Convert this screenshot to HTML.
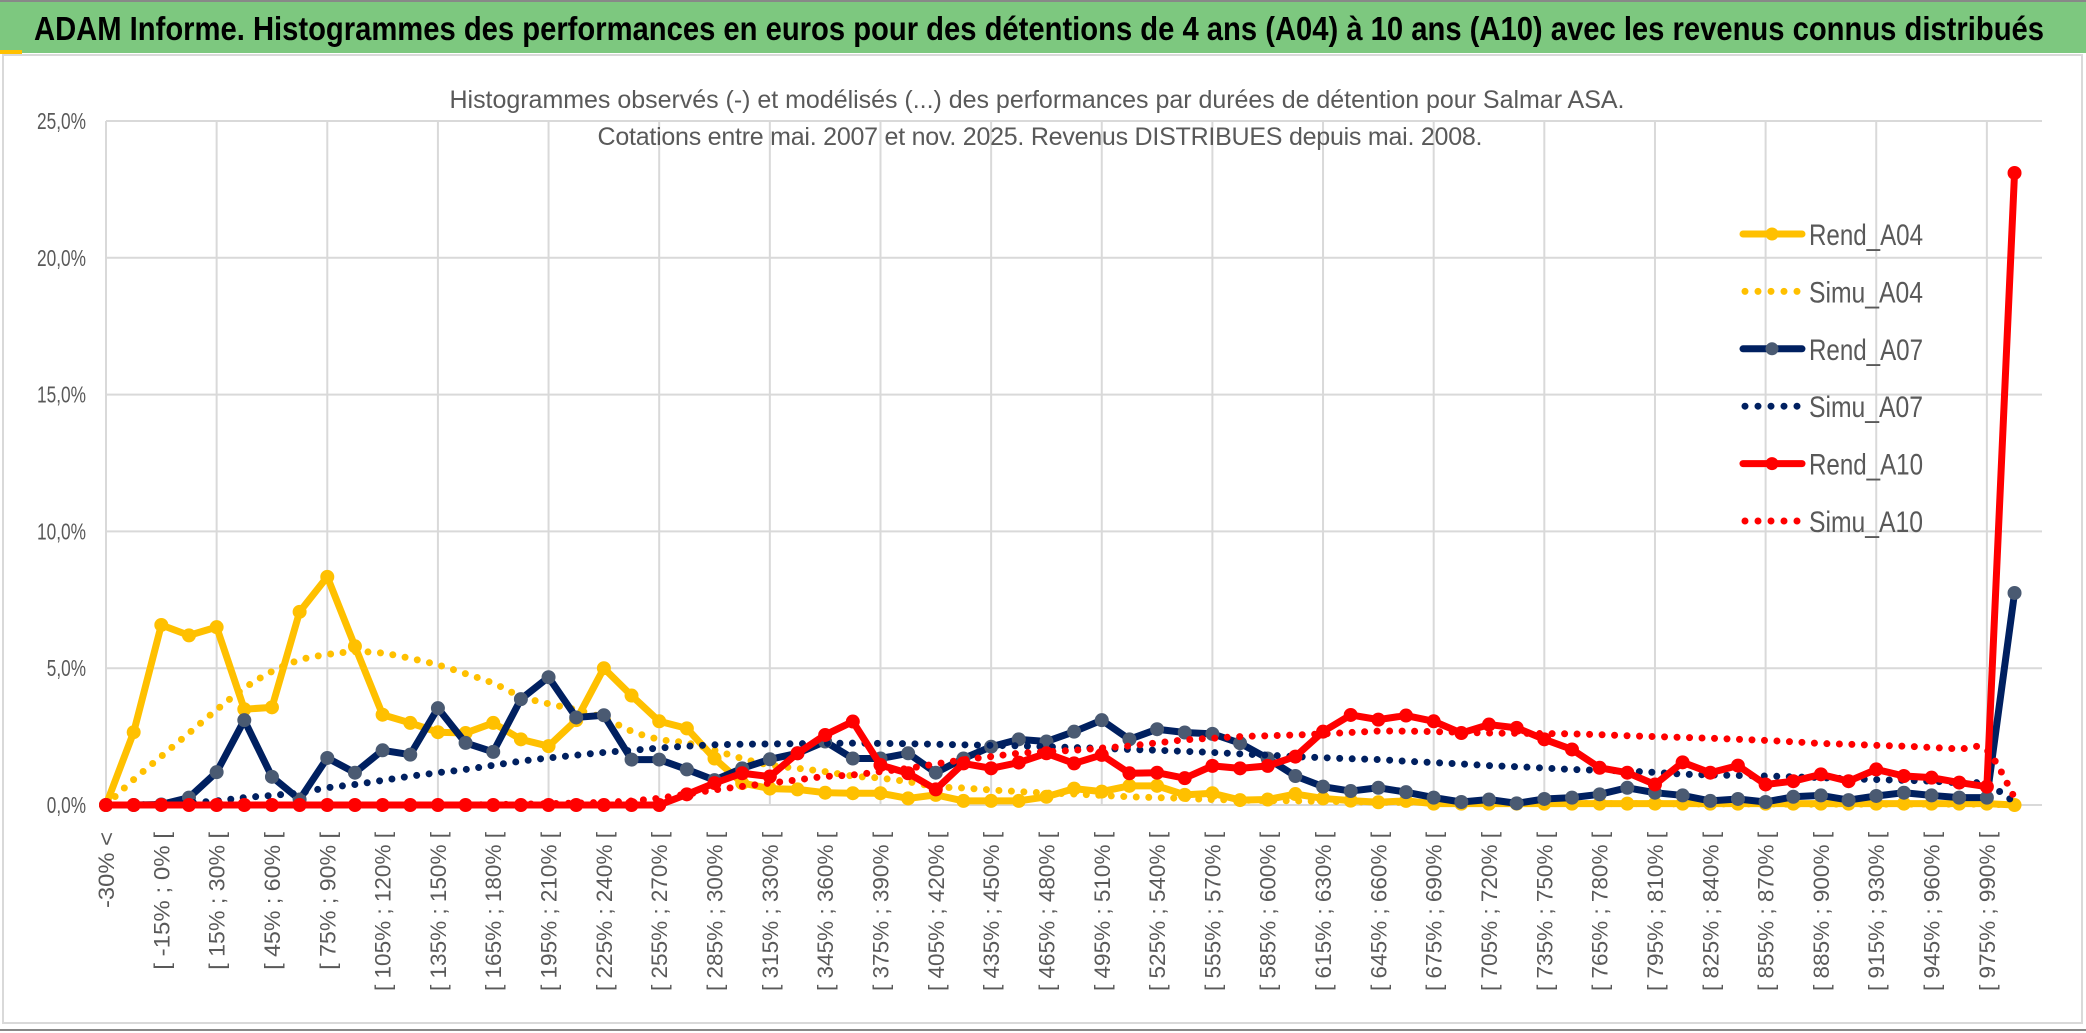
<!DOCTYPE html>
<html><head><meta charset="utf-8"><style>
html,body{margin:0;padding:0;background:#fff;}
svg{display:block;font-family:"Liberation Sans",sans-serif;}
</style></head><body>
<svg id="chart" width="2086" height="1033" viewBox="0 0 2086 1033" xmlns="http://www.w3.org/2000/svg">
<rect x="0" y="0" width="2086" height="1033" fill="#fff"/>
<rect x="0" y="2" width="2086" height="51" fill="#7dc87f"/>
<line x1="0" y1="1" x2="2086" y2="1" stroke="#888" stroke-width="2"/>
<rect x="0" y="50" width="22" height="4" fill="#ffc000"/>
<text x="34" y="40" font-size="33" font-weight="bold" fill="#000" font-family="Liberation Sans Narrow, Liberation Sans, sans-serif" textLength="2010" lengthAdjust="spacingAndGlyphs">ADAM Informe. Histogrammes des performances en euros pour des détentions de 4 ans (A04) à 10 ans (A10) avec les revenus connus distribués</text>
<rect x="3" y="55" width="2079" height="968" fill="none" stroke="#d9d9d9" stroke-width="2"/>
<line x1="0" y1="1030" x2="2086" y2="1030" stroke="#888" stroke-width="2"/>
<g id="grid"></g><g id="yaxis"></g><g id="xaxis"></g><g id="series"></g><g id="legend"></g>
<text x="1037" y="108" font-size="25" fill="#595959" text-anchor="middle" textLength="1175" lengthAdjust="spacing">Histogrammes observés (-) et modélisés (...) des performances par durées de détention pour Salmar ASA.</text>
<text x="1040" y="145" font-size="25" fill="#595959" text-anchor="middle" textLength="885" lengthAdjust="spacing">Cotations entre mai. 2007 et nov. 2025. Revenus DISTRIBUES depuis mai. 2008.</text>
</svg>
<script>
const yTicks = [0,5,10,15,20,25];
const yTickLabels = ["0,0%","5,0%","10,0%","15,0%","20,0%","25,0%"];
const categories = ["-30% <"];
for (let k = 1; k < 70; k++) { const a = -30 + 15*(k-1); categories.push("[ " + a + "% ; " + (a+15) + "% ["); }
const rendA04 = [0,2.66,6.58,6.2,6.5,3.5,3.57,7.06,8.34,5.8,3.3,3.0,2.66,2.63,3.0,2.4,2.15,3.1,5.0,4.0,3.06,2.8,1.7,0.8,0.6,0.57,0.45,0.43,0.43,0.24,0.37,0.15,0.15,0.15,0.3,0.6,0.49,0.7,0.7,0.37,0.43,0.18,0.2,0.4,0.24,0.16,0.1,0.15,0.05,0.05,0.05,0.05,0.05,0.05,0.05,0.05,0.05,0.05,0.05,0.05,0.05,0.05,0.05,0.05,0.05,0.05,0.05,0.05,0.05,0];
const simuA04 = [0,0.93,1.78,2.63,3.48,4.27,4.88,5.3,5.5,5.6,5.55,5.36,5.12,4.8,4.45,3.97,3.7,3.48,3.18,2.7,2.4,2.27,2.0,1.7,1.46,1.34,1.22,1.06,0.98,0.85,0.67,0.62,0.55,0.49,0.44,0.4,0.35,0.3,0.27,0.24,0.2,0.18,0.16,0.15,0.13,0.12,0.1,0.1,0.09,0.08,0.07,0.07,0.06,0.06,0.05,0.05,0.05,0.04,0.04,0.04,0.04,0.03,0.03,0.03,0.03,0.03,0.03,0.03,0.03,0];
const rendA07 = [0,0,0.02,0.27,1.2,3.1,1.03,0.2,1.72,1.18,2.0,1.84,3.54,2.27,1.94,3.87,4.67,3.2,3.28,1.66,1.66,1.3,0.91,1.34,1.67,1.89,2.32,1.7,1.7,1.89,1.18,1.7,2.13,2.4,2.32,2.68,3.1,2.4,2.77,2.65,2.6,2.26,1.7,1.06,0.67,0.51,0.63,0.47,0.27,0.11,0.2,0.06,0.22,0.27,0.39,0.63,0.45,0.35,0.15,0.22,0.11,0.3,0.35,0.18,0.33,0.45,0.35,0.27,0.27,7.75];
const simuA07 = [0,0,0.03,0.08,0.15,0.27,0.35,0.45,0.63,0.75,0.9,1.05,1.18,1.3,1.45,1.6,1.72,1.82,1.92,2.0,2.08,2.15,2.2,2.22,2.23,2.24,2.25,2.26,2.25,2.24,2.22,2.2,2.18,2.16,2.13,2.1,2.07,2.03,2.0,1.96,1.92,1.87,1.82,1.77,1.73,1.69,1.66,1.6,1.55,1.5,1.44,1.4,1.35,1.3,1.27,1.24,1.19,1.13,1.1,1.08,1.06,1.03,1.0,0.96,0.93,0.9,0.87,0.81,0.75,0.1];
const rendA10 = [0,0,0,0,0,0,0,0,0,0,0,0,0,0,0,0,0,0,0,0,0,0.39,0.8,1.16,1.04,1.89,2.56,3.05,1.46,1.16,0.57,1.52,1.34,1.55,1.89,1.52,1.83,1.16,1.18,0.98,1.43,1.34,1.43,1.77,2.68,3.29,3.12,3.27,3.06,2.63,2.94,2.82,2.4,2.03,1.36,1.18,0.75,1.56,1.18,1.44,0.75,0.87,1.12,0.87,1.3,1.06,1.0,0.82,0.67,23.1];
const simuA10 = [0,0,0,0,0,0,0,0,0,0,0,0,0,0,0.02,0.03,0.05,0.07,0.1,0.15,0.25,0.4,0.55,0.68,0.8,0.92,1.04,1.1,1.22,1.34,1.5,1.65,1.77,1.89,1.95,2.0,2.08,2.16,2.27,2.38,2.44,2.5,2.53,2.56,2.6,2.65,2.7,2.7,2.68,2.66,2.63,2.62,2.61,2.6,2.57,2.53,2.5,2.47,2.44,2.4,2.36,2.31,2.25,2.22,2.18,2.15,2.1,2.05,2.0,0.27];
const seriesNames = ["Rend_A04","Simu_A04","Rend_A07","Simu_A07","Rend_A10","Simu_A10"];

const NS = "http://www.w3.org/2000/svg";
const X0 = 106, DX = 27.66, Y0 = 805, PY = 27.36, XR = 2042;
const xs = i => X0 + i*DX;
const ys = v => Y0 - v*PY;
function mk(tag, attrs, parent){ const e=document.createElementNS(NS,tag); for(const k in attrs) e.setAttribute(k,attrs[k]); parent.appendChild(e); return e; }

const grid = document.getElementById('grid');
yTicks.forEach((t,k)=>{
  const l = mk('line',{x1:X0,x2:XR,y1:ys(t),y2:ys(t),stroke:'#d9d9d9','stroke-width':2},grid);
  
  
  const tx = mk('text',{x:86,y:ys(t)+8,'font-size':23,fill:'#595959','text-anchor':'end',textLength:yTickLabels[k].length*9.8,lengthAdjust:'spacingAndGlyphs'},document.getElementById('yaxis'));
  tx.textContent = yTickLabels[k];
  
  
});
for (let i=0;i<categories.length;i+=4){
  const l = mk('line',{x1:xs(i),x2:xs(i),y1:ys(25),y2:Y0,stroke:'#d9d9d9','stroke-width':2},grid);
  
  
}
const xa = document.getElementById('xaxis');
categories.forEach((c,i)=>{
  if (i%2) return;
  const t = mk('text',{x:0,y:0,'font-size':22,fill:'#595959','text-anchor':'end',transform:`translate(${xs(i)+8},832) rotate(-90)`,textLength:(i===0?76:c.length*10.6),lengthAdjust:'spacingAndGlyphs'},xa);
  t.textContent = c;
  
  
});

function smoothPath(vals){
  const p = vals.map((v,i)=>[xs(i),ys(v)]);
  let d = `M${p[0][0]},${p[0][1]}`;
  for (let i=0;i<p.length-1;i++){
    const a=p[i-1]||p[i], b=p[i], c=p[i+1], e=p[i+2]||c;
    const c1=[b[0]+(c[0]-a[0])/6, b[1]+(c[1]-a[1])/6], c2=[c[0]-(e[0]-b[0])/6, c[1]-(e[1]-b[1])/6];
    d += ` C${c1[0]},${c1[1]} ${c2[0]},${c2[1]} ${c[0]},${c[1]}`;
  }
  return d;
}
const sg = document.getElementById('series');
function dotted(vals,color,name){
  const p = mk('path',{d:smoothPath(vals),fill:'none',stroke:color,'stroke-width':7,'stroke-linecap':'round','stroke-dasharray':'0 12.5'},sg);
  
  
}
function solid(vals,color,mcolor,name){
  const g = mk('g',{},sg);
  
  
  mk('polyline',{points:vals.map((v,i)=>xs(i)+','+ys(v)).join(' '),fill:'none',stroke:color,'stroke-width':7,'stroke-linejoin':'round'},g);
  vals.forEach((v,i)=>{
    const c = mk('circle',{cx:xs(i),cy:ys(v),r:6.5,fill:mcolor,stroke:mcolor},g);
    
    
  });
}
solid(rendA04,'#ffc000','#ffc000','series-rend-a04');
dotted(simuA04,'#ffc000','series-simu-a04');
solid(rendA07,'#002060','#4a5a72','series-rend-a07');
dotted(simuA07,'#002060','series-simu-a07');
solid(rendA10,'#ff0000','#ff0000','series-rend-a10');
dotted(simuA10,'#ff0000','series-simu-a10');

const lg = document.getElementById('legend');
const lcol = ['#ffc000','#ffc000','#002060','#002060','#ff0000','#ff0000'];
const lmk = ['#ffc000',null,'#4a5a72',null,'#ff0000',null];
seriesNames.forEach((n,k)=>{
  const y = 234 + k*57.4;
  const g = mk('g',{},lg);
  
  
  if (lmk[k]) {
    mk('line',{x1:1743,x2:1802,y1:y,y2:y,stroke:lcol[k],'stroke-width':7,'stroke-linecap':'round'},g);
    mk('circle',{cx:1772,cy:y,r:6.5,fill:lmk[k]},g);
  } else {
    mk('line',{x1:1745,x2:1802,y1:y,y2:y,stroke:lcol[k],'stroke-width':7,'stroke-linecap':'round','stroke-dasharray':'0 13'},g);
  }
  const t = mk('text',{x:1809,y:y+11,'font-size':30,fill:'#595959',textLength:114,lengthAdjust:'spacingAndGlyphs'},g);
  t.textContent = n;
});
</script>
</body></html>
